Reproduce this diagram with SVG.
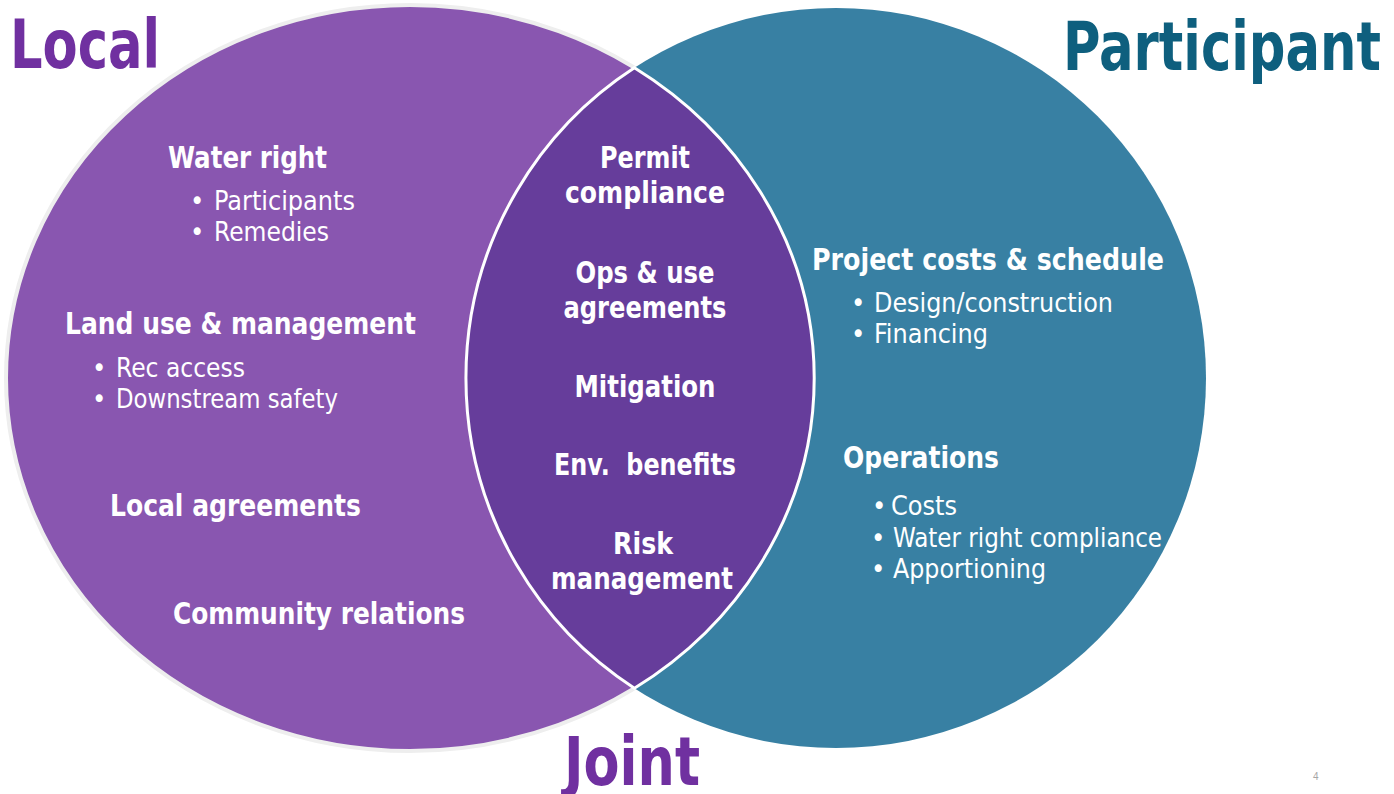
<svg xmlns="http://www.w3.org/2000/svg" width="1394" height="794" viewBox="0 0 1394 794">
<style>
.h{font-family:'Liberation Sans Narrow','DejaVu Sans Condensed','Liberation Sans',sans-serif;font-weight:bold;fill:#fff;font-size:30px}
.b{font-family:'Liberation Sans Narrow','DejaVu Sans Condensed','Liberation Sans',sans-serif;fill:#fff;font-size:27px}
.t{font-family:'Liberation Sans Narrow','DejaVu Sans Condensed','Liberation Sans',sans-serif;font-weight:bold;font-size:68px}
.c{text-anchor:middle}
</style>
<rect width="1394" height="794" fill="#fff"/>
<g id="local-circle">
<ellipse cx="410" cy="378" rx="404" ry="373" fill="#8956B0" stroke="#EEEEEE" stroke-width="4"/>
</g>
<g id="participant-circle">
<circle cx="836" cy="378" r="370" fill="#3880A3"/>
</g>
<g id="joint-lens">
<path d="M634.4 67.7 A370 370 0 0 0 634.4 688.3 A404 373 0 0 0 634.4 67.7 Z" fill="#663D9B" stroke="#FFFFFF" stroke-width="3"/>
</g>
<g id="titles">
<text class="t" x="10" y="68" fill="#7030A0" textLength="150" lengthAdjust="spacingAndGlyphs">Local</text>
<text class="t" x="1063" y="70" fill="#0E5F7E" textLength="318" lengthAdjust="spacingAndGlyphs">Participant</text>
<text class="t" x="564" y="785" fill="#7030A0" font-size="64" textLength="136" lengthAdjust="spacingAndGlyphs">Joint</text>
</g>
<g id="local-items">
<text class="h" x="168" y="168" textLength="159" lengthAdjust="spacingAndGlyphs">Water right</text>
<text class="b" x="190" y="210">•</text>
<text class="b" x="214" y="210" textLength="141" lengthAdjust="spacingAndGlyphs">Participants</text>
<text class="b" x="190" y="241">•</text>
<text class="b" x="214" y="241" textLength="115" lengthAdjust="spacingAndGlyphs">Remedies</text>
<text class="h" x="65" y="334" textLength="351" lengthAdjust="spacingAndGlyphs">Land use &amp; management</text>
<text class="b" x="92" y="377">•</text>
<text class="b" x="116" y="377" textLength="129" lengthAdjust="spacingAndGlyphs">Rec access</text>
<text class="b" x="92" y="408">•</text>
<text class="b" x="116" y="408" textLength="222" lengthAdjust="spacingAndGlyphs">Downstream safety</text>
<text class="h" x="110" y="516" textLength="251" lengthAdjust="spacingAndGlyphs">Local agreements</text>
<text class="h" x="173" y="624" textLength="292" lengthAdjust="spacingAndGlyphs">Community relations</text>
</g>
<g id="joint-items">
<text class="h c" x="645" y="168" textLength="90" lengthAdjust="spacingAndGlyphs">Permit</text>
<text class="h c" x="645" y="203" textLength="160" lengthAdjust="spacingAndGlyphs">compliance</text>
<text class="h c" x="645" y="283" textLength="139" lengthAdjust="spacingAndGlyphs">Ops &amp; use</text>
<text class="h c" x="645" y="318" textLength="163" lengthAdjust="spacingAndGlyphs">agreements</text>
<text class="h c" x="645" y="397" textLength="141" lengthAdjust="spacingAndGlyphs">Mitigation</text>
<text class="h c" x="645" y="475" textLength="182" lengthAdjust="spacingAndGlyphs" xml:space="preserve">Env.  benefits</text>
<text class="h c" x="643" y="554" textLength="60" lengthAdjust="spacingAndGlyphs">Risk</text>
<text class="h c" x="642" y="589" textLength="182" lengthAdjust="spacingAndGlyphs">management</text>
</g>
<g id="participant-items">
<text class="h" x="812" y="270" textLength="352" lengthAdjust="spacingAndGlyphs">Project costs &amp; schedule</text>
<text class="b" x="851" y="312">•</text>
<text class="b" x="874" y="312" textLength="239" lengthAdjust="spacingAndGlyphs">Design/construction</text>
<text class="b" x="851" y="343">•</text>
<text class="b" x="874" y="343" textLength="114" lengthAdjust="spacingAndGlyphs">Financing</text>
<text class="h" x="843" y="468" textLength="156" lengthAdjust="spacingAndGlyphs">Operations</text>
<text class="b" x="872" y="515">•</text>
<text class="b" x="891" y="515" textLength="66" lengthAdjust="spacingAndGlyphs">Costs</text>
<text class="b" x="871" y="547">•</text>
<text class="b" x="893" y="547" textLength="269" lengthAdjust="spacingAndGlyphs">Water right compliance</text>
<text class="b" x="871" y="578">•</text>
<text class="b" x="893" y="578" textLength="153" lengthAdjust="spacingAndGlyphs">Apportioning</text>
</g>
<text x="1313" y="780" font-family="'Liberation Sans',sans-serif" font-size="10" fill="#A6A6A6">4</text>
</svg>
